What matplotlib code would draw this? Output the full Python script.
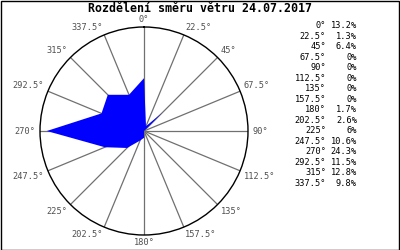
import numpy as np
import matplotlib
matplotlib.use("Agg")
import matplotlib.pyplot as plt
from matplotlib.patches import Rectangle

title = "Rozdělení směru větru 24.07.2017"
directions = [0, 22.5, 45, 67.5, 90, 112.5, 135, 157.5, 180, 202.5, 225, 247.5, 270, 292.5, 315, 337.5]
dir_labels = ["0°", "22.5°", "45°", "67.5°", "90°", "112.5°", "135°", "157.5°",
              "180°", "202.5°", "225°", "247.5°", "270°", "292.5°", "315°", "337.5°"]
percent = [13.2, 1.3, 6.4, 0, 0, 0, 0, 0, 1.7, 2.6, 6, 10.6, 24.3, 11.5, 12.8, 9.8]
rmax = 26.0

W, H = 400, 250
fig = plt.figure(figsize=(4, 2.5), dpi=100)
fig.patch.set_facecolor("white")

cx, cy, R = 144, 131, 104
ax = fig.add_axes([(cx - R) / W, (H - cy - R) / H, 2 * R / W, 2 * R / H], projection="polar")
ax.set_theta_zero_location("N")
ax.set_theta_direction(-1)
ax.set_ylim(0, rmax)
ax.grid(False)
ax.set_xticks([])
ax.set_yticks([])
ax.spines["polar"].set_color("black")
ax.spines["polar"].set_linewidth(1.0)
ax.set_facecolor("white")

th = np.deg2rad(directions)
for t in th:
    ax.plot([t, t], [0, rmax], color="#707070", lw=0.9, zorder=1)

ax.fill(np.append(th, th[0]), np.append(percent, percent[0]), color="#0000FF", lw=0, zorder=2)

mono = "DejaVu Sans Mono"
for t, d, lab in zip(th, directions, dir_labels):
    s, c = np.sin(t), np.cos(t)
    if abs(s) < 1e-6:
        ha = "center"
    elif s > 0:
        ha = "left"
    else:
        ha = "right"
    if abs(c) < 1e-6:
        va = "center"
    elif c > 0:
        va = "bottom"
    else:
        va = "top"
    ax.annotate(lab, xy=(t, rmax), xytext=(3 * s, 2 * c), textcoords="offset points",
                ha=ha, va=va, fontsize=6.2, family=mono, color="#505050",
                annotation_clip=False)

fig.text(200 / W, 1 - 9 / H, title, ha="center", va="center", fontsize=8.4,
         family=mono, weight="bold", color="black")

y0, dy = 25.7, 10.5
for i, (lab, p) in enumerate(zip(dir_labels, percent)):
    y = 1 - (y0 + i * dy) / H
    fig.text(326 / W, y, lab, ha="right", va="center", fontsize=6.2, family=mono, color="black")
    fig.text(357 / W, y, f"{p:g}%", ha="right", va="center", fontsize=6.2, family=mono, color="black")

fig.patches.append(Rectangle((0.5 / W, 0.5 / H), 1 - 1.5 / W, 1 - 1.5 / H, transform=fig.transFigure,
                             fill=False, edgecolor="black", lw=1.0))

fig.savefig("out.png", dpi=100)
